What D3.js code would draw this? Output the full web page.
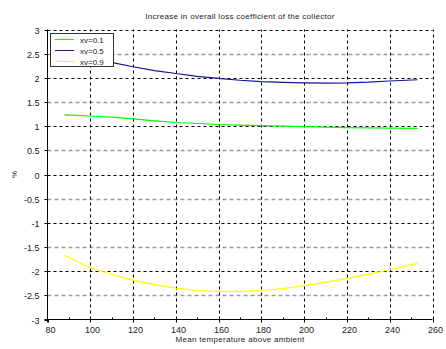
<!DOCTYPE html>
<html><head><meta charset="utf-8">
<script src="https://cdn.jsdelivr.net/npm/d3@7"></script>
<style>body{margin:0;background:#fff}svg{display:block}text{font-family:"Liberation Sans",Arial,sans-serif;fill:#222}</style>
</head><body><svg id="c" width="446" height="349"></svg>
<script>
const xValues = [88, 100, 111, 120, 130, 140, 150, 160, 170, 180, 190, 200, 210, 220, 230, 240, 253];
const xv01 = [1.235, 1.21, 1.18, 1.15, 1.11, 1.076, 1.055, 1.035, 1.02, 1.01, 1.0, 0.99, 0.98, 0.97, 0.965, 0.96, 0.955];
const xv05 = [2.48, 2.39, 2.31, 2.23, 2.15, 2.09, 2.03, 1.99, 1.95, 1.92, 1.905, 1.895, 1.89, 1.895, 1.91, 1.935, 1.96];
const xv09 = [-1.676, -1.93, -2.08, -2.19, -2.28, -2.35, -2.40, -2.42, -2.42, -2.40, -2.36, -2.30, -2.23, -2.15, -2.06, -1.97, -1.835];
const seriesNames = ["xv=0.1", "xv=0.5", "xv=0.9"];
const seriesColors = ["#00ff00", "#14149a", "#ffff00"];
const xTicks = [80, 100, 120, 140, 160, 180, 200, 220, 240, 260];
const xMinor = [90, 110, 130, 150, 170, 190, 210, 230, 250];
const yTicks = [-3, -2.5, -2, -1.5, -1, -0.5, 0, 0.5, 1, 1.5, 2, 2.5, 3];
const title = "Increase in overall loss coefficient of the collector";
const xTitle = "Mean temperature above ambient";
const yTitle = "%";

const svg = d3.select("#c");
const L = 47.5, R = 432.5, T = 29.5, B = 319.5;
const x = d3.scaleLinear().domain([80, 260]).range([L, R]);
const y = d3.scaleLinear().domain([-3, 3]).range([B, T]);

// grid
const g = svg.append("g");
yTicks.forEach(v => {
  if (v === -3) return;
  const half = Math.abs(v % 1) > 0;
  g.append("line").attr("x1", L).attr("x2", R).attr("y1", Math.round(y(v)) + 0.5).attr("y2", Math.round(y(v)) + 0.5)
    .attr("stroke", half ? "#9a9a9a" : "#000").attr("stroke-width", half ? 1.6 : 1)
    .attr("stroke-dasharray", half ? "4,3" : "3,3");
});
xTicks.forEach(v => {
  if (v === 80) return;
  g.append("line").attr("y1", B).attr("y2", T).attr("x1", Math.round(x(v)) + 0.5).attr("x2", Math.round(x(v)) + 0.5)
    .attr("stroke", "#000").attr("stroke-width", 1).attr("stroke-dasharray", "3,3");
});

// series
const line = d3.line().x((d, i) => x(xValues[i])).y(d => y(d));
[xv01, xv05, xv09].forEach((s, k) => {
  svg.append("path").datum(s).attr("d", line).attr("fill", "none")
    .attr("stroke", seriesColors[k]).attr("stroke-width", 1.2);
});

// axes
const ax = svg.append("g");
ax.append("line").attr("x1", L - 3).attr("x2", R).attr("y1", B).attr("y2", B).attr("stroke", "#000");
ax.append("line").attr("x1", L).attr("x2", L).attr("y1", T).attr("y2", B + 3).attr("stroke", "#000");
xTicks.forEach(v => {
  const px = Math.round(x(v)) + 0.5;
  ax.append("line").attr("x1", px).attr("x2", px).attr("y1", B).attr("y2", B + 3).attr("stroke", "#000");
  ax.append("text").attr("x", px + 2).attr("y", B + 13).attr("text-anchor", "middle")
    .attr("font-size", 9).text(v);
});
xMinor.forEach(v => {
  const px = Math.round(x(v)) + 0.5;
  ax.append("line").attr("x1", px).attr("x2", px).attr("y1", B).attr("y2", B - 2).attr("stroke", "#000");
});
yTicks.forEach(v => {
  const py = Math.round(y(v)) + 0.5;
  ax.append("line").attr("x1", L - 3).attr("x2", L).attr("y1", py).attr("y2", py).attr("stroke", "#000");
  ax.append("text").attr("x", L - 8).attr("y", py + 3).attr("text-anchor", "end")
    .attr("font-size", 9).text(v);
});

// titles
svg.append("text").attr("x", (L + R) / 2).attr("y", 19).attr("text-anchor", "middle")
  .attr("font-size", 8).attr("letter-spacing", 0.3).text(title);
svg.append("text").attr("x", (L + R) / 2).attr("y", 342).attr("text-anchor", "middle")
  .attr("font-size", 8).attr("letter-spacing", 0.3).text(xTitle);
svg.append("text").attr("transform", `translate(17,${(T + B) / 2}) rotate(-90)`).attr("text-anchor", "middle")
  .attr("font-size", 8).text(yTitle);

// legend
const lg = svg.append("g");
lg.append("rect").attr("x", 50.5).attr("y", 33.5).attr("width", 63).attr("height", 33)
  .attr("fill", "#fff").attr("stroke", "#333").attr("stroke-width", 1);
seriesNames.forEach((n, k) => {
  const yy = 39.5 + k * 11;
  lg.append("line").attr("x1", 55).attr("x2", 74).attr("y1", yy).attr("y2", yy)
    .attr("stroke", seriesColors[k]).attr("stroke-width", 1);
  lg.append("text").attr("x", 80).attr("y", yy + 3).attr("font-size", 8).text(n);
});
</script></body></html>
